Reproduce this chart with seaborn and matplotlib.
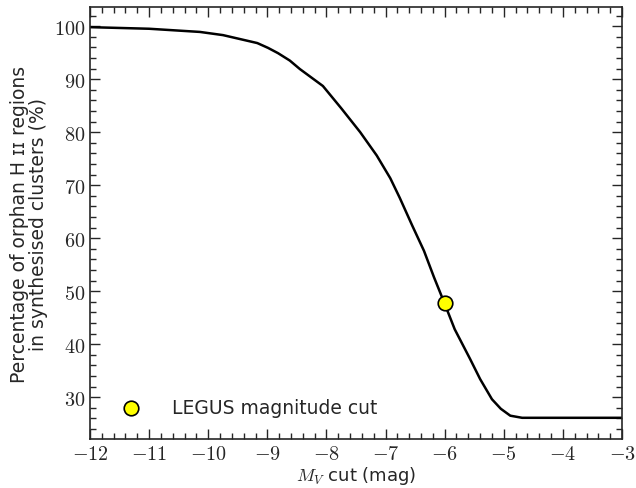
import numpy as np
import pandas as pd
import matplotlib
matplotlib.use("Agg")
import matplotlib.pyplot as plt
import seaborn as sns
from matplotlib.ticker import MultipleLocator, FuncFormatter

# magnitude cut vs. orphan fraction
mag_cut = [-12.0, -11.0, -10.14, -9.75, -9.17, -8.99, -8.82, -8.62, -8.45, -8.06,
           -7.75, -7.43, -7.15, -6.92, -6.76, -6.55, -6.35, -6.18, -6.01, -5.83,
           -5.57, -5.40, -5.20, -5.05, -4.89, -4.69, -4.0, -3.0]
orphan_pct = [99.8, 99.5, 98.9, 98.3, 96.8, 95.9, 94.9, 93.5, 91.9, 88.7,
              84.5, 80.0, 75.6, 71.3, 67.6, 62.4, 57.6, 52.6, 47.9, 42.8,
              37.2, 33.4, 29.6, 27.8, 26.5, 26.1, 26.1, 26.1]

legus_mag = [-6.0]
legus_pct = [47.8]

df = pd.DataFrame({"mag": mag_cut, "pct": orphan_pct})
pts = pd.DataFrame({"mag": legus_mag, "pct": legus_pct})

sns.set_style("ticks")
plt.rcParams["font.family"] = ["DejaVu Sans"]
plt.rcParams["mathtext.fontset"] = "cm"

fig = plt.figure(figsize=(6.36, 4.89), dpi=100)
ax = fig.add_axes([0.1415, 0.1002, 0.8365, 0.8834])

sns.lineplot(data=df, x="mag", y="pct", color="black", linewidth=1.8, ax=ax)
sns.scatterplot(data=pts, x="mag", y="pct", color="#ffff00", edgecolor="black",
                linewidth=1.2, s=110, zorder=5, label="LEGUS magnitude cut", ax=ax)

ax.set_xlim(-12, -3)
ax.set_ylim(22.1, 103.6)
ax.xaxis.set_major_locator(MultipleLocator(1))
ax.xaxis.set_minor_locator(MultipleLocator(0.2))
ax.yaxis.set_major_locator(MultipleLocator(10))
ax.yaxis.set_minor_locator(MultipleLocator(2))
fmt = FuncFormatter(lambda v, p: r"$%d$" % round(v))
ax.xaxis.set_major_formatter(fmt)
ax.yaxis.set_major_formatter(fmt)
ax.tick_params(which="both", direction="in", top=True, right=True, width=1.0,
               labelsize=14.5)
ax.tick_params(which="major", length=7)
ax.tick_params(which="minor", length=4)
for s in ax.spines.values():
    s.set_linewidth(1.2)

ax.set_xlabel(r"$M_V$ cut (mag)", fontsize=13, labelpad=1)
ax.set_ylabel("Percentage of orphan H ɪɪ regions\nin synthesised clusters (%)",
              fontsize=13.5, linespacing=1.0)

leg = ax.legend(loc="lower left", frameon=False, fontsize=13.5, handletextpad=1.2,
                borderaxespad=0.8, bbox_to_anchor=(0.0, 0.0))

fig.savefig("out.png", dpi=100)
